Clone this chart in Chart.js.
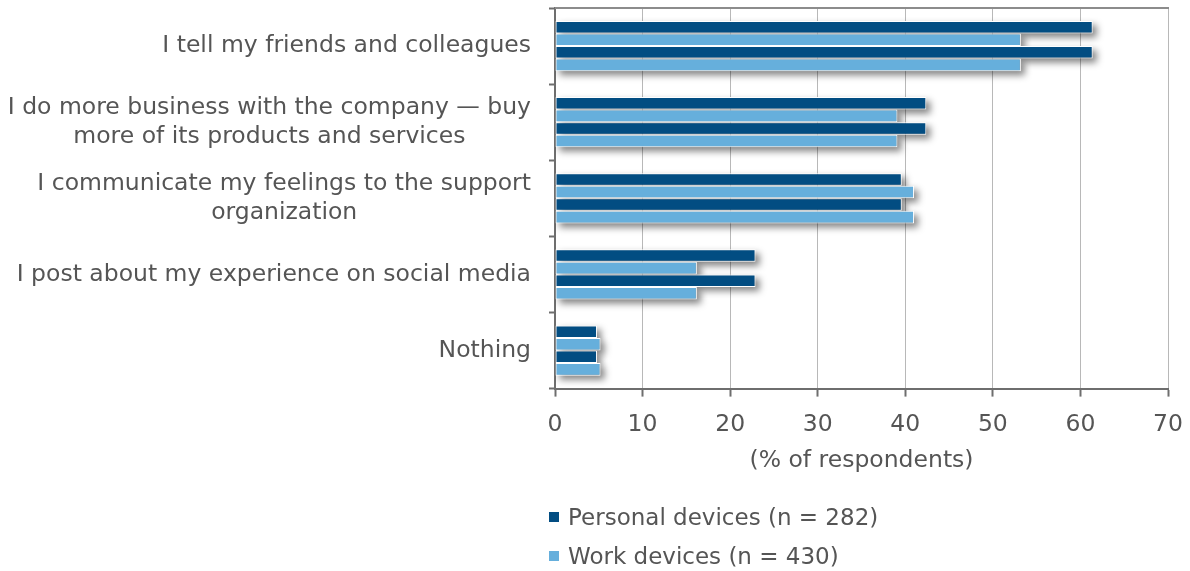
<!DOCTYPE html>
<html>
<head>
<meta charset="utf-8">
<script src="https://cdn.jsdelivr.net/npm/chart.js@4.4.1/dist/chart.umd.min.js"></script>
<style>
  html, body { margin: 0; padding: 0; background: #ffffff; }
  #wrap { position: relative; width: 1190px; height: 571px; }
  #legend { position: absolute; left: 549px; top: 497px; font-family: "DejaVu Sans", sans-serif; font-size: 23px; color: #555555; }
  #legend .item { display: flex; align-items: center; height: 39px; }
  #legend .box { width: 10px; height: 10px; margin-right: 9px; }
</style>
</head>
<body>
<div id="wrap">
  <canvas id="chart" width="1190" height="571"></canvas>
  <div id="legend"></div>
</div>
<script>
// Survey responses: what people do after a good support experience
const categories = [
  ["I tell my friends and colleagues"],
  ["I do more business with the company \u2014 buy", "more of its products and services"],
  ["I communicate my feelings to the support", "organization"],
  ["I post about my experience on social media"],
  ["Nothing"]
];
const personalDevices = [61.4, 42.4, 39.6, 22.9, 4.8];
const workDevices = [53.2, 39.1, 41.0, 16.2, 5.2];
const seriesNames = ["Personal devices (n = 282)", "Work devices (n = 430)"];
const xTicks = [0, 10, 20, 30, 40, 50, 60, 70];

const darkBlue = "#024d82";
const lightBlue = "#66afdc";
const textGray = "#555555";
const axisGray = "#6e6e6e";
const gridGray = "#b8b8b8";
const fontFamily = "'DejaVu Sans', sans-serif";
const fontSize = 23.5;

// Each series is drawn twice per category, alternating dark/light
const barStyle = { borderColor: "#ffffff", borderWidth: 1, borderSkipped: false, categoryPercentage: 0.66, barPercentage: 1.0 };
const datasets = [
  Object.assign({ label: seriesNames[0], data: personalDevices, backgroundColor: darkBlue }, barStyle),
  Object.assign({ label: seriesNames[1], data: workDevices, backgroundColor: lightBlue }, barStyle),
  Object.assign({ label: seriesNames[0] + " ", data: personalDevices, backgroundColor: darkBlue }, barStyle),
  Object.assign({ label: seriesNames[1] + " ", data: workDevices, backgroundColor: lightBlue }, barStyle)
];

// Soft drop shadow painted under every bar before the bars themselves
const barShadow = {
  id: "barShadow",
  beforeDatasetsDraw(chart) {
    const { ctx, chartArea } = chart;
    ctx.save();
    ctx.beginPath();
    ctx.rect(chartArea.left, chartArea.top, chartArea.width + 14, chartArea.height);
    ctx.clip();
    ctx.filter = "blur(3.5px)";
    ctx.fillStyle = "rgba(0,0,0,0.48)";
    chart.data.datasets.forEach((ds, i) => {
      chart.getDatasetMeta(i).data.forEach(bar => {
        const left = Math.min(bar.base, bar.x);
        const w = Math.abs(bar.x - bar.base);
        ctx.fillRect(left + 4, bar.y - bar.height / 2 + 4, w, bar.height);
      });
    });
    ctx.restore();
  }
};

// Category labels: block right-aligned to the axis, lines centred within the block
const categoryLabels = {
  id: "categoryLabels",
  afterDraw(chart) {
    const ctx = chart.ctx;
    const yScale = chart.scales.y;
    const right = chart.chartArea.left - 24;
    const lineH = 29;
    ctx.save();
    ctx.font = fontSize + "px " + fontFamily;
    ctx.fillStyle = textGray;
    ctx.textBaseline = "middle";
    ctx.textAlign = "center";
    categories.forEach((lines, i) => {
      const yc = yScale.getPixelForValue(i);
      const w = Math.max(...lines.map(l => ctx.measureText(l).width));
      const cx = right - w / 2;
      const y0 = yc - (lines.length - 1) * lineH / 2;
      lines.forEach((l, j) => ctx.fillText(l, cx, y0 + j * lineH));
    });
    ctx.restore();
  }
};

// Top frame line of the plot area
const topFrame = {
  id: "topFrame",
  afterDraw(chart) {
    const { ctx, chartArea } = chart;
    ctx.save();
    ctx.strokeStyle = "#8c8c8c";
    ctx.lineWidth = 2;
    ctx.beginPath();
    ctx.moveTo(chartArea.left, chartArea.top);
    ctx.lineTo(chartArea.right + 1, chartArea.top);
    ctx.stroke();
    ctx.restore();
  }
};

new Chart(document.getElementById("chart"), {
  type: "bar",
  data: { labels: categories, datasets },
  options: {
    indexAxis: "y",
    responsive: false,
    animation: false,
    layout: { padding: { top: 8, right: 22, bottom: 90, left: 0 } },
    plugins: { legend: { display: false }, tooltip: { enabled: false } },
    scales: {
      x: {
        min: xTicks[0],
        max: xTicks[xTicks.length - 1],
        afterBuildTicks(scale) { scale.ticks = xTicks.map(v => ({ value: v })); },
        afterFit(scale) { scale.paddingRight = 0; },
        grid: { color: gridGray, lineWidth: 1, tickColor: axisGray, tickLength: 8, tickWidth: 2 },
        border: { color: axisGray, width: 2 },
        ticks: { color: textGray, font: { family: fontFamily, size: fontSize }, padding: 14 },
        title: { display: true, text: "(% of respondents)", color: textGray, font: { family: fontFamily, size: fontSize }, padding: { top: -6, bottom: 6 } }
      },
      y: {
        grid: { drawOnChartArea: false, tickColor: axisGray, tickLength: 6, tickWidth: 2, offset: true },
        border: { color: axisGray, width: 2 },
        ticks: { display: false },
        afterFit(scale) { scale.width = 555; }
      }
    }
  },
  plugins: [barShadow, categoryLabels, topFrame]
});

// Legend below the chart, one series per row
const legend = document.getElementById("legend");
[[seriesNames[0], darkBlue], [seriesNames[1], lightBlue]].forEach(([name, color]) => {
  const item = document.createElement("div");
  item.className = "item";
  const box = document.createElement("span");
  box.className = "box";
  box.style.background = color;
  const txt = document.createElement("span");
  txt.textContent = name;
  item.appendChild(box);
  item.appendChild(txt);
  legend.appendChild(item);
});
</script>
</body>
</html>
